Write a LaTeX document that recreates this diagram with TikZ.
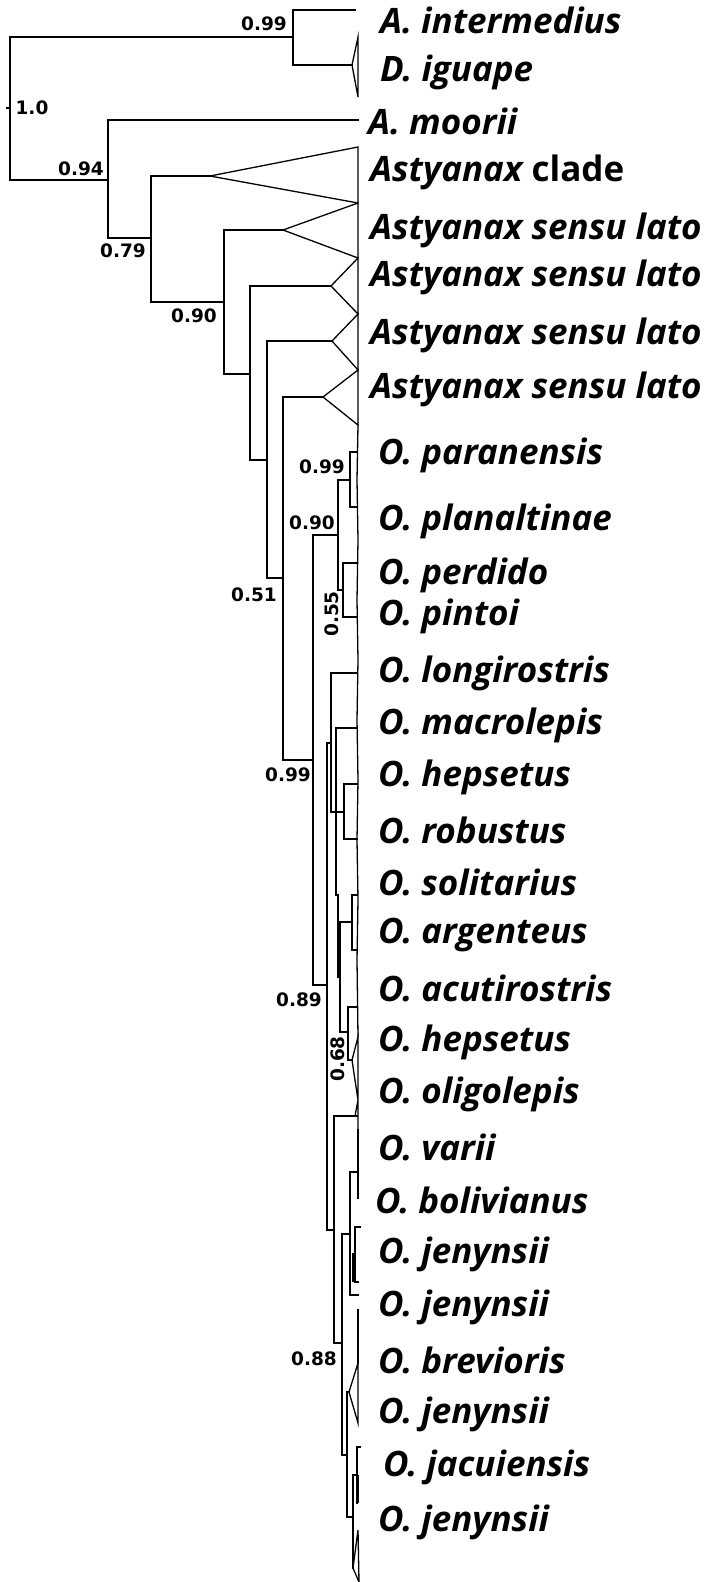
\documentclass[tikz,border=0pt]{standalone}
\usepackage{fontspec}
\setmainfont{Open Sans}
\newfontfamily\supfont{DejaVu Sans}
\begin{document}
\begin{tikzpicture}[x=1pt,y=-1pt,
  br/.style={line width=1.3pt, line join=miter, line cap=rect},
  tri/.style={line width=1.3pt, line join=miter},
  thk/.style={line width=2.2pt},
  sp/.style={anchor=west, inner sep=0pt, font=\fontsize{35}{40}\selectfont\bfseries},
  bs/.style={inner sep=0pt, font=\supfont\fontsize{18.5}{22}\selectfont\bfseries}]
\useasboundingbox (0,0) rectangle (710,1582);
% ---------- backbone ----------
\draw[br] (7,108) -- (10,108);
\draw[br] (293,10) -- (355,10);
\draw[br] (293,65) -- (352,65);
\draw[br] (355,10) -| (293,65);
\draw[br] (10,37) -- (293,37);
\draw[br] (10,37) -- (10,180) -- (108,180);
\draw[tri] (352,65) -- (358,37) -- (358,97) -- cycle;
\draw[br] (358,120) -- (108,120) -- (108,238) -- (151,238);
\draw[br] (210,176) -- (151,176) -- (151,302) -- (224,302);
\draw[tri] (210,176) -- (358,147) -- (358,203) -- cycle;
\draw[br] (283,230) -- (224,230) -- (224,374) -- (250,374);
\draw[tri] (283,230) -- (358,203) -- (358,258) -- cycle;
\draw[br] (331,286) -- (250,286) -- (250,460) -- (267,460);
\draw[tri] (331,286) -- (358,258) -- (358,314) -- cycle;
\draw[br] (332,341) -- (267,341) -- (267,578) -- (283,578);
\draw[tri] (332,341) -- (358,314) -- (358,370) -- cycle;
\draw[br] (323,397) -- (283,397) -- (283,760) -- (313,760);
\draw[tri] (323,397) -- (358,370) -- (358,425) -- cycle;
\draw[br] (338,535) -- (313,535) -- (313,985) -- (327,985);
% ---------- upper Oligosarcus clade ----------
\draw[br] (350,480) -- (338,480) -- (338,590) -- (343,590);
\draw[br] (357,452) -- (350,452) -- (350,507) -- (357,507);
\draw[br] (357,563) -- (343,563) -- (343,617) -- (357,617);
% ---------- lower clade ----------
\draw[br] (331,743) -- (327,743) -- (327,1230) -- (334,1230);
\draw[br] (357,673) -- (331,673) -- (331,812) -- (344,812);
\draw[br] (357,728) -- (336,728) -- (336,895) -- (338,895) -- (338,977) -- (340,977);
\draw[br] (357,784) -- (344,784) -- (344,839) -- (357,839);
\draw[br] (357,895) -- (352,895) -- (352,950) -- (357,950);
\draw[br] (352,922) -- (340,922) -- (340,1032) -- (348,1032);
\draw[br] (357,1007) -- (348,1007) -- (348,1060) -- (352,1060);
\draw[br] (357,1116) -- (334,1116) -- (334,1343) -- (342,1343);
\draw[br] (358,1172) -- (350,1172) -- (350,1295) -- (358,1295);
\draw[br] (350,1234) -- (342,1234) -- (342,1455) -- (347,1455);
\draw[br] (360,1227) -- (355,1227) -- (355,1282) -- (358,1282);
\draw[thk] (353,1253) -- (353,1282);
\draw[br] (349,1392) -- (347,1392) -- (347,1517) -- (353,1517);
\draw[tri] (349,1392) -- (358,1363) -- (358,1423) -- cycle;
\draw[br] (360,1447) -- (357,1447) -- (357,1503);
\draw[thk] (358,1475) -- (358,1503);
\draw[br] (357,1475) -- (353,1475) -- (353,1568);
\draw[tri] (353,1568) -- (358,1530) -- (359,1582) -- cycle;
% right edge of collapsed tips
\draw[br] (358,425) -- (357,480) -- (358,540) -- (357,600) -- (358,660)
  -- (357,720) -- (358,780) -- (357,840) -- (358,900) -- (357,960) -- (358,1037);
\draw[tri] (352,1060) -- (358,1037) -- (358,1100) -- cycle;
\draw[tri] (355,1116) -- (358,1100) -- (358,1130);
\draw[br] (358,1130) -- (358,1198);
\draw[thk] (358,1140) -- (358,1198);
\draw[br] (358,1310) -- (358,1363);
\draw[thk] (358,1320) -- (358,1360);
% ---------- support values ----------
\node[bs] (s1) at (32,108) {1.0};
\node[bs] (s2) at (264,24) {0.99};
\node[bs] (s3) at (81,169) {0.94};
\node[bs] (s4) at (123,251) {0.79};
\node[bs] (s5) at (194,316) {0.90};
\node[bs] (s6) at (254,595) {0.51};
\node[bs] (s7) at (322,467) {0.99};
\node[bs] (s8) at (312,523) {0.90};
\node[bs, rotate=90] (s9) at (332,614) {0.55};
\node[bs] (s10) at (288,775) {0.99};
\node[bs] (s11) at (299,1000) {0.89};
\node[bs, rotate=90] (s12) at (338,1059) {0.68};
\node[bs] (s13) at (314,1359) {0.88};
% ---------- taxa ----------
\node[sp] (t1) at (380,20) {\itshape A. intermedius};
\node[sp] (t2) at (380,72) {\itshape D. iguape};
\node[sp] (t3) at (368,121) {\itshape A. moorii};
\node[sp] (t4) at (370,172) {{\itshape Astyanax} clade};
\node[sp] (t5) at (370,230) {\itshape Astyanax sensu lato};
\node[sp] (t6) at (370,277) {\itshape Astyanax sensu lato};
\node[sp] (t7) at (370,335) {\itshape Astyanax sensu lato};
\node[sp] (t8) at (370,389) {\itshape Astyanax sensu lato};
\node[sp] (t9) at (378,455) {\itshape O. paranensis};
\node[sp] (t10) at (378,521) {\itshape O. planaltinae};
\node[sp] (t11) at (378,575) {\itshape O. perdido};
\node[sp] (t12) at (378,616) {\itshape O. pintoi};
\node[sp] (t13) at (378,673) {\itshape O. longirostris};
\node[sp] (t14) at (378,725) {\itshape O. macrolepis};
\node[sp] (t15) at (378,777) {\itshape O. hepsetus};
\node[sp] (t16) at (378,830) {\itshape O. robustus};
\node[sp] (t17) at (378,882) {\itshape O. solitarius};
\node[sp] (t18) at (378,935) {\itshape O. argenteus};
\node[sp] (t19) at (378,988) {\itshape O. acutirostris};
\node[sp] (t20) at (378,1042) {\itshape O. hepsetus};
\node[sp] (t21) at (378,1094) {\itshape O. oligolepis};
\node[sp] (t22) at (378,1147) {\itshape O. varii};
\node[sp] (t23) at (375,1200) {\itshape O. bolivianus};
\node[sp] (t24) at (378,1254) {\itshape O. jenynsii};
\node[sp] (t25) at (378,1307) {\itshape O. jenynsii};
\node[sp] (t26) at (378,1360) {\itshape O. brevioris};
\node[sp] (t27) at (378,1414) {\itshape O. jenynsii};
\node[sp] (t28) at (383,1467) {\itshape O. jacuiensis};
\node[sp] (t29) at (378,1522) {\itshape O. jenynsii};
\end{tikzpicture}
\end{document}
